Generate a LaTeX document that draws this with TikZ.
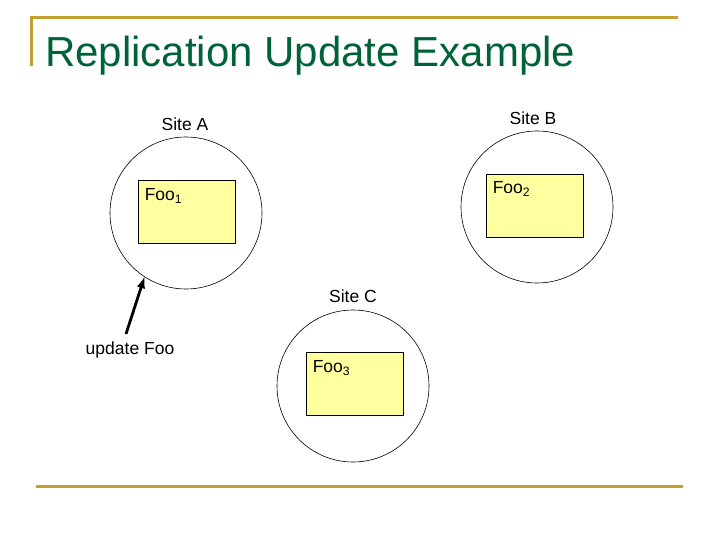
\documentclass[tikz,border=0pt]{standalone}
\usepackage{fontspec}
\setmainfont{Liberation Sans}
\usetikzlibrary{arrows, positioning}
\definecolor{titlegreen}{RGB}{0,99,56}
\definecolor{rulegold}{RGB}{196,160,48}
\definecolor{copyyellow}{RGB}{255,255,160}

\begin{document}
\begin{tikzpicture}[x=1pt, y=-1pt,
    site/.style={draw, circle, line width=0.6pt, minimum size=152pt, inner sep=0pt},
    copybox/.style={draw, fill=copyyellow, line width=0.8pt, minimum width=97pt, minimum height=63pt, inner sep=0pt},
    lbl/.style={font=\fontsize{17.5}{20}\selectfont, inner sep=0pt}]
    \useasboundingbox (0,0) rectangle (720,540);

    % Title and rules
    \draw[rulegold, line width=3pt] (31,66) -- (31,18) -- (678,18);
    \draw[rulegold, line width=3pt] (36,486) -- (683,486);
    \node[anchor=base west, inner sep=0pt, text=titlegreen, font=\fontsize{42}{48}\selectfont] (title) at (45,67) {Replication Update Example};

    % Site A
    \node[site] (siteA) at (186,213) {};
    \node[lbl] (siteAlbl) at (185,124) {Site A};
    \node[copybox] (fooA) at (186.5,211.5) {};
    \node[lbl, anchor=north west] (fooAlbl) at ([xshift=7pt, yshift=-9pt]fooA.north west) {Foo\textsubscript{1}};

    % Site B
    \node[site] (siteB) at (537,207) {};
    \node[lbl] (siteBlbl) at (533,118) {Site B};
    \node[copybox] (fooB) at (534.5,205.5) {};
    \node[lbl, anchor=north west] (fooBlbl) at ([xshift=7pt, yshift=-8pt]fooB.north west) {Foo\textsubscript{2}};

    % Site C
    \node[site] (siteC) at (353,386) {};
    \node[lbl] (siteClbl) at (353,296) {Site C};
    \node[copybox] (fooC) at (354.5,383.5) {};
    \node[lbl, anchor=north west] (fooClbl) at ([xshift=7pt, yshift=-9pt]fooC.north west) {Foo\textsubscript{3}};

    % Update request
    \node[lbl] (update) at (130,350) {update Foo};
    \coordinate (updtail) at (126,334);
    \draw[-latex, line width=2.8pt] (updtail) -- (siteA.237);
\end{tikzpicture}
\end{document}
